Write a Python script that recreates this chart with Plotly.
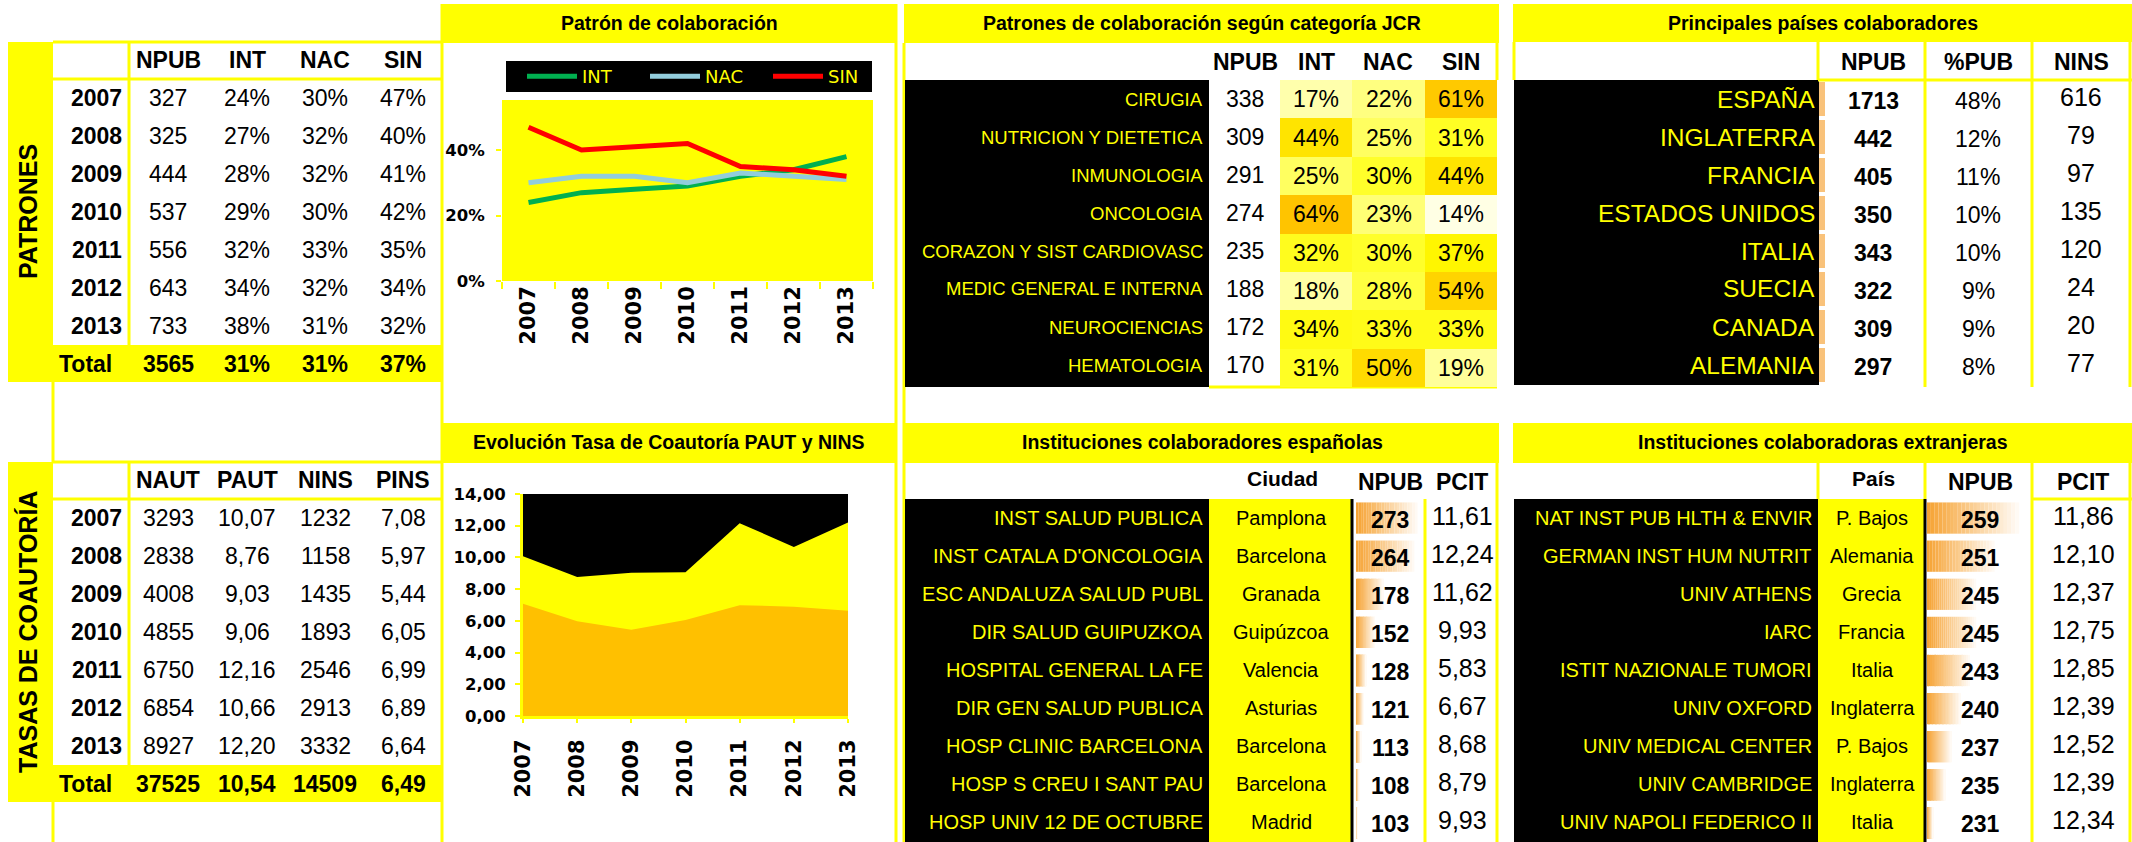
import plotly.graph_objects as go

# ---------------- DATA ----------------
years = [2007, 2008, 2009, 2010, 2011, 2012, 2013]

pat_npub = [327, 325, 444, 537, 556, 643, 733]
pat_int = [24, 27, 28, 29, 32, 34, 38]
pat_nac = [30, 32, 32, 30, 33, 32, 31]
pat_sin = [47, 40, 41, 42, 35, 34, 32]
pat_total = [3565, 31, 31, 37]
pat_headers = ["NPUB", "INT", "NAC", "SIN"]

co_naut = [3293, 2838, 4008, 4855, 6750, 6854, 8927]
co_paut = [10.07, 8.76, 9.03, 9.06, 12.16, 10.66, 12.20]
co_nins = [1232, 1158, 1435, 1893, 2546, 2913, 3332]
co_pins = [7.08, 5.97, 5.44, 6.05, 6.99, 6.89, 6.64]
co_total = [37525, 10.54, 14509, 6.49]
co_headers = ["NAUT", "PAUT", "NINS", "PINS"]

jcr_cats = ["CIRUGIA", "NUTRICION Y DIETETICA", "INMUNOLOGIA", "ONCOLOGIA",
            "CORAZON Y SIST CARDIOVASC", "MEDIC GENERAL E INTERNA", "NEUROCIENCIAS", "HEMATOLOGIA"]
jcr_npub = [338, 309, 291, 274, 235, 188, 172, 170]
jcr_int = [17, 44, 25, 64, 32, 18, 34, 31]
jcr_nac = [22, 25, 30, 23, 30, 28, 33, 50]
jcr_sin = [61, 31, 44, 14, 37, 54, 33, 19]
jcr_cols = ["INT", "NAC", "SIN"]

countries = ["ESPAÑA", "INGLATERRA", "FRANCIA", "ESTADOS UNIDOS", "ITALIA", "SUECIA", "CANADA", "ALEMANIA"]
cty_npub = [1713, 442, 405, 350, 343, 322, 309, 297]
cty_pct = [48, 12, 11, 10, 10, 9, 9, 8]
cty_nins = [616, 79, 97, 135, 120, 24, 20, 77]

es_inst = ["INST SALUD PUBLICA", "INST CATALA D'ONCOLOGIA", "ESC ANDALUZA SALUD PUBL", "DIR SALUD GUIPUZKOA",
           "HOSPITAL GENERAL LA FE", "DIR GEN SALUD PUBLICA", "HOSP CLINIC BARCELONA", "HOSP S CREU I SANT PAU",
           "HOSP UNIV 12 DE OCTUBRE"]
es_city = ["Pamplona", "Barcelona", "Granada", "Guipúzcoa", "Valencia", "Asturias", "Barcelona", "Barcelona", "Madrid"]
es_npub = [273, 264, 178, 152, 128, 121, 113, 108, 103]
es_pcit = [11.61, 12.24, 11.62, 9.93, 5.83, 6.67, 8.68, 8.79, 9.93]

ex_inst = ["NAT INST PUB HLTH & ENVIR", "GERMAN INST HUM NUTRIT", "UNIV ATHENS", "IARC", "ISTIT NAZIONALE TUMORI",
           "UNIV OXFORD", "UNIV MEDICAL CENTER", "UNIV CAMBRIDGE", "UNIV NAPOLI FEDERICO II"]
ex_country = ["P. Bajos", "Alemania", "Grecia", "Francia", "Italia", "Inglaterra", "P. Bajos", "Inglaterra", "Italia"]
ex_npub = [259, 251, 245, 245, 243, 240, 237, 235, 231]
ex_pcit = [11.86, 12.10, 12.37, 12.75, 12.85, 12.39, 12.52, 12.39, 12.34]

# ---------------- STYLE / GEOMETRY ----------------
W, H = 2132, 842
YEL = "#FFFF00"
NARROW = "Liberation Sans Narrow, Arial Narrow, Liberation Sans, Arial, sans-serif"
WIDE = "Liberation Sans, Arial, sans-serif"
CHART = "DejaVu Sans, Verdana, sans-serif"
ROW = 38.0


def X(p):
    return p / W


def Y(p):
    return 1 - p / H


def dec(v):
    return f"{v:.2f}".replace(".", ",")


shapes = []
anns = []


def rect(x0, y0, x1, y1, color, layer="below"):
    shapes.append(dict(type="rect", xref="paper", yref="paper", x0=X(x0), x1=X(x1), y0=Y(y1), y1=Y(y0),
                       fillcolor=color, line=dict(width=0), layer=layer))


def line(x0, y0, x1, y1, color=YEL, width=3, layer="below"):
    shapes.append(dict(type="line", xref="paper", yref="paper", x0=X(x0), x1=X(x1), y0=Y(y0), y1=Y(y1),
                       line=dict(color=color, width=width), layer=layer))


def txt(x, y, s, size, bold=False, color="black", anchor="center", family=NARROW, angle=0):
    anns.append(dict(x=X(x), y=Y(y), xref="paper", yref="paper", text=s, showarrow=False,
                     xanchor=anchor, yanchor="middle", textangle=angle,
                     font=dict(family=family, size=size, color=color, weight="bold" if bold else "normal")))


TS = 23      # table text size
TITLE = 19.5  # panel titles


# ---------- left tables ----------
def left_table(top, side_label, headers, cols, total, col_x):
    hdr_bot = top + 37
    rows_bot = hdr_bot + ROW * len(years)
    tot_bot = rows_bot + 37
    rect(8, top, 53, tot_bot, YEL)
    rect(53, rows_bot, 442, tot_bot, YEL)
    line(53, top, 442, top)
    line(53, hdr_bot, 442, hdr_bot)
    line(129, top, 129, rows_bot)
    txt(28, (top + tot_bot) / 2, side_label, 25, bold=True, family=WIDE, angle=-90)
    for h, cx in zip(headers, col_x):
        txt(cx, (top + hdr_bot) / 2, h, TS, bold=True)
    for i, yr in enumerate(years):
        cy = hdr_bot + ROW * (i + 0.5)
        txt(124, cy, str(yr), TS, bold=True, anchor="right")
        for col, cx in zip(cols, col_x):
            txt(cx, cy, col[i], TS)
    ty = (rows_bot + tot_bot) / 2
    txt(57, ty, "Total", TS, bold=True, anchor="left")
    for t, cx in zip(total, col_x):
        txt(cx, ty, t, TS, bold=True)
    return tot_bot


colx = [168, 247, 325, 403]
b1 = left_table(42, "PATRONES", pat_headers,
                [[str(v) for v in pat_npub], [f"{v}%" for v in pat_int], [f"{v}%" for v in pat_nac],
                 [f"{v}%" for v in pat_sin]],
                [str(pat_total[0])] + [f"{v}%" for v in pat_total[1:]], colx)
b2 = left_table(462, "TASAS DE COAUTORÍA", co_headers,
                [[str(v) for v in co_naut], [dec(v) for v in co_paut], [str(v) for v in co_nins],
                 [dec(v) for v in co_pins]],
                [str(co_total[0]), dec(co_total[1]), str(co_total[2]), dec(co_total[3])], colx)
line(53, b1, 53, 462)
line(53, b2, 53, H)

# ---------- chart panels ----------
line(442, 4, 442, H)
line(896, 4, 896, H)
rect(442, 4, 896, 43, YEL)
txt(669, 23, "Patrón de colaboración", TITLE, bold=True)
rect(442, 423, 896, 463, YEL)
txt(669, 442, "Evolución Tasa de Coautoría PAUT y NINS", TITLE, bold=True)
rect(506, 61, 872, 92, "black")

# ---------- JCR panel ----------
rect(904, 4, 1499, 43, YEL)
txt(1202, 23, "Patrones de colaboración según categoría JCR", TITLE, bold=True)
line(904, 43, 904, H)
line(1497, 43, 1497, 80)
rect(905, 80, 1209, 387, "black")
line(1209, 387, 1497, 387)
for h, cx in zip(["NPUB"] + jcr_cols, [1245, 1316, 1388, 1461]):
    txt(cx, 62, h, TS, bold=True)
for i, c in enumerate(jcr_cats):
    cy = 80 + ROW * (i + 0.5)
    txt(1205, cy, c, 18.5, color=YEL, anchor="right")
    txt(1245, cy, str(jcr_npub[i]), TS)

# ---------- countries panel ----------
rect(1513, 4, 2132, 42, YEL)
txt(1823, 23, "Principales países colaboradores", TITLE, bold=True)
line(1514, 42, 1514, 80)
rect(1514, 80, 1819, 385, "black")
line(1818, 42, 1818, 80)
for lx in [1925, 2032, 2130]:
    line(lx, 42, lx, 387)
line(1818, 80, 2132, 80)
for h, cx in zip(["NPUB", "%PUB", "NINS"], [1873, 1978, 2081]):
    txt(cx, 62, h, TS, bold=True)
for i, c in enumerate(countries):
    cy = 80 + ROW * (i + 0.5)
    rect(1819, cy - 17, 1825, cy + 17, "#F9C27A")
    txt(1817, cy, c, 24.5, color=YEL, anchor="right")
    txt(1873, cy + 2, str(cty_npub[i]), TS, bold=True)
    txt(1978, cy + 2, f"{cty_pct[i]}%", TS)
    txt(2081, cy - 2, str(cty_nins[i]), 25)

# ---------- Spanish institutions ----------
rect(904, 423, 1499, 463, YEL)
txt(1202, 442, "Instituciones colaboradores españolas", TITLE, bold=True)
line(1497, 463, 1497, H)
rect(905, 499, 1209, H, "black")
rect(1209, 499, 1352, H, YEL)
line(1352, 499, 1352, H, color="black", width=3)
line(1425, 499, 1425, H)
txt(1282, 478, "Ciudad", 21, bold=True)
txt(1390, 482, "NPUB", TS, bold=True)
txt(1462, 482, "PCIT", TS, bold=True)
for i in range(len(es_inst)):
    cy = 499 + ROW * (i + 0.5)
    txt(1205, cy, es_inst[i], 20, color=YEL, anchor="right")
    txt(1281, cy, es_city[i], 20)
    txt(1390, cy + 2, str(es_npub[i]), TS, bold=True)
    txt(1462, cy - 2, dec(es_pcit[i]), 25)

# ---------- foreign institutions ----------
rect(1513, 423, 2132, 463, YEL)
txt(1823, 442, "Instituciones colaboradoras extranjeras", TITLE, bold=True)
rect(1514, 499, 1818, H, "black")
rect(1818, 499, 1925, H, YEL)
line(1925, 499, 1925, H, color="black", width=3)
for lx in [1818, 1925]:
    line(lx, 463, lx, 499)
for lx in [2032, 2130]:
    line(lx, 463, lx, H)
line(2032, 499, 2132, 499)
txt(1873, 478, "País", 21, bold=True)
txt(1980, 482, "NPUB", TS, bold=True)
txt(2083, 482, "PCIT", TS, bold=True)
for i in range(len(ex_inst)):
    cy = 499 + ROW * (i + 0.5)
    txt(1814, cy, ex_inst[i], 20, color=YEL, anchor="right")
    txt(1872, cy, ex_country[i], 20)
    txt(1980, cy + 2, str(ex_npub[i]), TS, bold=True)
    txt(2083, cy - 2, dec(ex_pcit[i]), 25)

# ---------------- TRACES ----------------
fig = go.Figure()
xcat = [str(y) for y in years]
for name, vals, col in [("INT", pat_int, "#00B050"), ("NAC", pat_nac, "#92CDDC"), ("SIN", pat_sin, "#FF0000")]:
    fig.add_trace(go.Scatter(x=xcat, y=[v / 100 for v in vals], mode="lines", name=name,
                             line=dict(color=col, width=5), xaxis="x", yaxis="y", hoverinfo="skip"))

fig.add_trace(go.Scatter(x=years, y=co_paut, mode="lines", fill="tozeroy", fillcolor=YEL,
                         line=dict(width=0, color=YEL), showlegend=False, xaxis="x2", yaxis="y2", hoverinfo="skip"))
fig.add_trace(go.Scatter(x=years, y=co_pins, mode="lines", fill="tozeroy", fillcolor="#FFC000",
                         line=dict(width=0, color="#FFC000"), showlegend=False, xaxis="x2", yaxis="y2", hoverinfo="skip"))

zvals = [[a, b, c] for a, b, c in zip(jcr_int, jcr_nac, jcr_sin)]
ztext = [[f"{v}%" for v in row] for row in zvals]
fig.add_trace(go.Heatmap(z=zvals, x=jcr_cols, y=jcr_cats, text=ztext, texttemplate="%{text}",
                         textfont=dict(family=NARROW, size=TS, color="black"),
                         zmin=14, zmax=64, showscale=False, xgap=0, ygap=0, hoverinfo="skip",
                         colorscale=[[0, "#FFFFE4"], [0.06, "#FFFFAC"], [0.16, "#FFFF80"], [0.32, "#FFFF2A"],
                                     [0.46, "#FFF600"], [0.6, "#FFE400"], [0.72, "#FFDB00"], [0.8, "#FFD400"],
                                     [1, "#FFC400"]],
                         xaxis="x3", yaxis="y3"))

# gradient data bars
NSEG = 24
c0 = (246, 163, 52)
c1 = (255, 250, 244)


def seg_color(k):
    t = k / (NSEG - 1)
    return "rgb(%d,%d,%d)" % tuple(round(a + (b - a) * t) for a, b in zip(c0, c1))


ES_BASE, EX_BASE = 98.7, 229.0
for vals, base0, xa, ya in [(es_npub, ES_BASE, "x4", "y4"), (ex_npub, EX_BASE, "x5", "y5")]:
    for k in range(NSEG):
        seg = [(v - base0) / NSEG for v in vals]
        fig.add_trace(go.Bar(y=list(range(len(vals))), x=seg, base=[base0 + s * k for s in seg], orientation="h",
                             width=0.82, marker=dict(color=seg_color(k), line=dict(width=0)),
                             showlegend=False, hoverinfo="skip", xaxis=xa, yaxis=ya))

# ---------------- LAYOUT ----------------
ytickfont = dict(family=CHART, size=16.5, color="black", weight="bold")
xtickfont = dict(family=CHART, size=21, color="black", weight="bold")
hidden = dict(visible=False, showgrid=False, zeroline=False, fixedrange=True)

fig.update_layout(
    template="none",
    width=W, height=H,
    margin=dict(l=0, r=0, t=0, b=0),
    paper_bgcolor="white", plot_bgcolor="rgba(0,0,0,0)",
    separators=",.",
    barmode="overlay",
    shapes=shapes + [
        dict(type="rect", xref="x domain", yref="y domain", x0=0, x1=1, y0=0, y1=1,
             fillcolor=YEL, line=dict(width=0), layer="below"),
        dict(type="rect", xref="x2 domain", yref="y2 domain", x0=0, x1=1, y0=0, y1=1,
             fillcolor="black", line=dict(width=0), layer="below"),
    ],
    annotations=anns,
    showlegend=True,
    legend=dict(orientation="h", x=X(522), y=Y(76.5), xanchor="left", yanchor="middle",
                bgcolor="rgba(0,0,0,0)", font=dict(family=CHART, size=18, color=YEL),
                entrywidth=58, entrywidthmode="pixels", itemwidth=50, traceorder="normal"),
    xaxis=dict(domain=[X(502), X(873)], type="category", range=[-0.5, 6.5], tickson="boundaries",
               ticks="outside", ticklen=7, tickwidth=2, tickcolor=YEL, tickangle=-90, tickfont=xtickfont,
               showgrid=False, zeroline=False, showline=False, anchor="y", fixedrange=True),
    yaxis=dict(domain=[Y(281), Y(100)], range=[0, 0.553], tickvals=[0, 0.2, 0.4], ticktext=["0%", "20%", "40%"],
               ticks="outside", ticklen=5, tickwidth=2, tickcolor=YEL, tickfont=ytickfont, ticklabelstandoff=8,
               showgrid=False, zeroline=False, showline=False, anchor="x", fixedrange=True),
    xaxis2=dict(domain=[X(523), X(848)], range=[2007, 2013], tickvals=years, ticks="outside", ticklen=4,
                tickwidth=2, tickcolor=YEL, tickangle=-90, tickfont=xtickfont, showline=True, linecolor=YEL,
                linewidth=3, ticklabelstandoff=8, showgrid=False, zeroline=False, anchor="y2", fixedrange=True),
    yaxis2=dict(domain=[Y(716), Y(494)], range=[0, 14], dtick=2, tick0=0, tickformat=".2f", ticks="outside",
                ticklen=5, tickwidth=2, tickcolor=YEL, tickfont=ytickfont, showline=True, linecolor=YEL,
                linewidth=3, ticklabelstandoff=6, showgrid=False, zeroline=False, anchor="x2", fixedrange=True),
    xaxis3=dict(domain=[X(1280), X(1497)], range=[-0.5, 2.5], anchor="y3", **hidden),
    yaxis3=dict(domain=[Y(387), Y(80)], range=[7.5, -0.5], anchor="x3", **hidden),
    xaxis4=dict(domain=[X(1356), X(1425)], range=[ES_BASE, 294], anchor="y4", **hidden),
    yaxis4=dict(domain=[Y(842), Y(499)], range=[8.5, -0.5], anchor="x4", **hidden),
    xaxis5=dict(domain=[X(1927), X(2030)], range=[EX_BASE, 262.5], anchor="y5", **hidden),
    yaxis5=dict(domain=[Y(842), Y(499)], range=[8.5, -0.5], anchor="x5", **hidden),
)

fig.write_html("out.html", config={"displayModeBar": False},
               post_script="document.body.style.margin='0';document.body.style.overflow='hidden';")
